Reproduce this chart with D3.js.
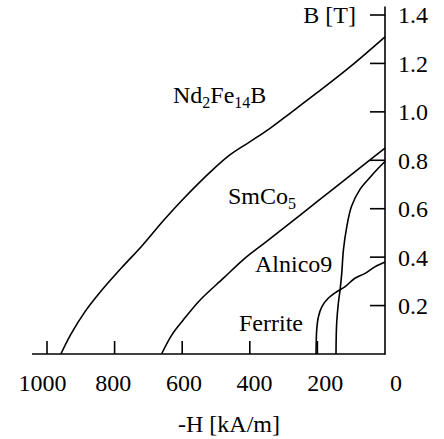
<!DOCTYPE html>
<html>
<head>
<script src="https://cdn.jsdelivr.net/npm/d3@7"></script>
<style>
  body { margin: 0; background: #fff; }
  svg text, svg tspan { font-family: "Liberation Serif", "Times New Roman", serif !important; }
</style>
</head>
<body>
<script>
const width = 444;
const height = 439;

// demagnetisation curves, -H in kA/m, B in T
const ndfebH = [959, 930, 890, 840, 780, 720, 656, 597, 518, 459, 399, 340, 281, 200, 100, 0];
const ndfebB = [0, 0.08, 0.17, 0.26, 0.355, 0.445, 0.55, 0.64, 0.75, 0.822, 0.877, 0.932, 0.994, 1.08, 1.19, 1.31];

const smcoH = [661, 631, 597, 547, 478, 419, 350, 250, 150, 50, 0];
const smcoB = [0, 0.078, 0.14, 0.223, 0.313, 0.39, 0.465, 0.575, 0.685, 0.795, 0.85];

const alnicoH = [145, 143, 138, 133, 128, 123, 113, 99, 74, 44, 20, 0];
const alnicoB = [0, 0.127, 0.21, 0.264, 0.333, 0.43, 0.526, 0.61, 0.68, 0.73, 0.767, 0.795];

const ferriteH = [204, 202, 197, 187, 168, 143, 118, 89, 59, 30, 0];
const ferriteB = [0, 0.1, 0.154, 0.195, 0.23, 0.257, 0.278, 0.313, 0.333, 0.36, 0.38];

const xTicks = [1000, 800, 600, 400, 200];
const xTickLabels = [1000, 800, 600, 400, 200, 0];
const yTicks = [0.2, 0.4, 0.6, 0.8, 1.0, 1.2, 1.4];

const svg = d3
  .select("body")
  .append("svg")
  .attr("width", width)
  .attr("height", height);

const x = d3.scaleLinear().domain([1000, 0]).range([47, 385]);
// tick labels sit a little wider apart than the ticks themselves
const xLabel = d3.scaleLinear().domain([1000, 0]).range([42.5, 396]);
const y = d3.scaleLinear().domain([0, 1.4]).range([354, 15]);

const ink = "#000";
const sw = 1.6;

// every text goes through here so the serif face sticks
function addText(sel) {
  return sel
    .append("text")
    .style("font-family", '"Liberation Serif"')
    .style("font-size", "24px")
    .style("fill", ink);
}

// bottom axis line + ticks pointing up
svg.append("line")
  .attr("x1", 32).attr("x2", x(0))
  .attr("y1", y(0)).attr("y2", y(0))
  .attr("stroke", ink).attr("stroke-width", sw);

svg.selectAll(".xtick").data(xTicks).enter().append("line")
  .attr("class", "xtick")
  .attr("x1", (d) => x(d)).attr("x2", (d) => x(d))
  .attr("y1", y(0)).attr("y2", y(0) - 13)
  .attr("stroke", ink).attr("stroke-width", sw);

addText(svg.selectAll(".xlab").data(xTickLabels).enter())
  .attr("class", "xlab")
  .attr("x", (d) => xLabel(d))
  .attr("y", 391)
  .attr("text-anchor", "middle")
  .text((d) => d);

addText(svg)
  .attr("x", 229).attr("y", 432)
  .attr("text-anchor", "middle")
  .text("-H [kA/m]");

// right axis at H = 0, ticks pointing left
svg.append("line")
  .attr("x1", x(0)).attr("x2", x(0))
  .attr("y1", 6.5).attr("y2", y(0) + sw / 2)
  .attr("stroke", ink).attr("stroke-width", sw);

svg.selectAll(".ytick").data(yTicks).enter().append("line")
  .attr("class", "ytick")
  .attr("x1", x(0) - 15).attr("x2", x(0))
  .attr("y1", (d) => y(d)).attr("y2", (d) => y(d))
  .attr("stroke", ink).attr("stroke-width", sw);

addText(svg.selectAll(".ylab").data(yTicks).enter())
  .attr("class", "ylab")
  .attr("x", 398)
  .attr("y", (d) => y(d))
  .attr("dy", "0.35em")
  .text((d) => d.toFixed(1));

addText(svg)
  .attr("x", 356).attr("y", y(1.4))
  .attr("dy", "0.35em")
  .attr("text-anchor", "end")
  .text("B [T]");

// curves
const line = d3.line()
  .x((d) => x(d[0]))
  .y((d) => y(d[1]))
  .curve(d3.curveCatmullRom);

const curves = [
  [ndfebH, ndfebB],
  [smcoH, smcoB],
  [alnicoH, alnicoB],
  [ferriteH, ferriteB],
];

svg.selectAll(".curve").data(curves).enter().append("path")
  .attr("class", "curve")
  .attr("d", (d) => line(d3.zip(d[0], d[1])))
  .attr("fill", "none")
  .attr("stroke", ink)
  .attr("stroke-width", sw);

// curve labels, subscripts dropped 5px in a smaller size
function label(px, py, parts) {
  const t = addText(svg).attr("x", px).attr("y", py);
  let wasSub = false;
  parts.forEach(([s, sub]) => {
    t.append("tspan")
      .style("font-size", sub ? "16px" : "24px")
      .attr("dy", sub ? 5 : wasSub ? -5 : 0)
      .text(s);
    wasSub = !!sub;
  });
}

label(173, 103, [["Nd"], ["2", true], ["Fe"], ["14", true], ["B"]]);
label(228, 204, [["SmCo"], ["5", true]]);
label(255, 272, [["Alnico9"]]);
label(239, 331, [["Ferrite"]]);
</script>
</body>
</html>
